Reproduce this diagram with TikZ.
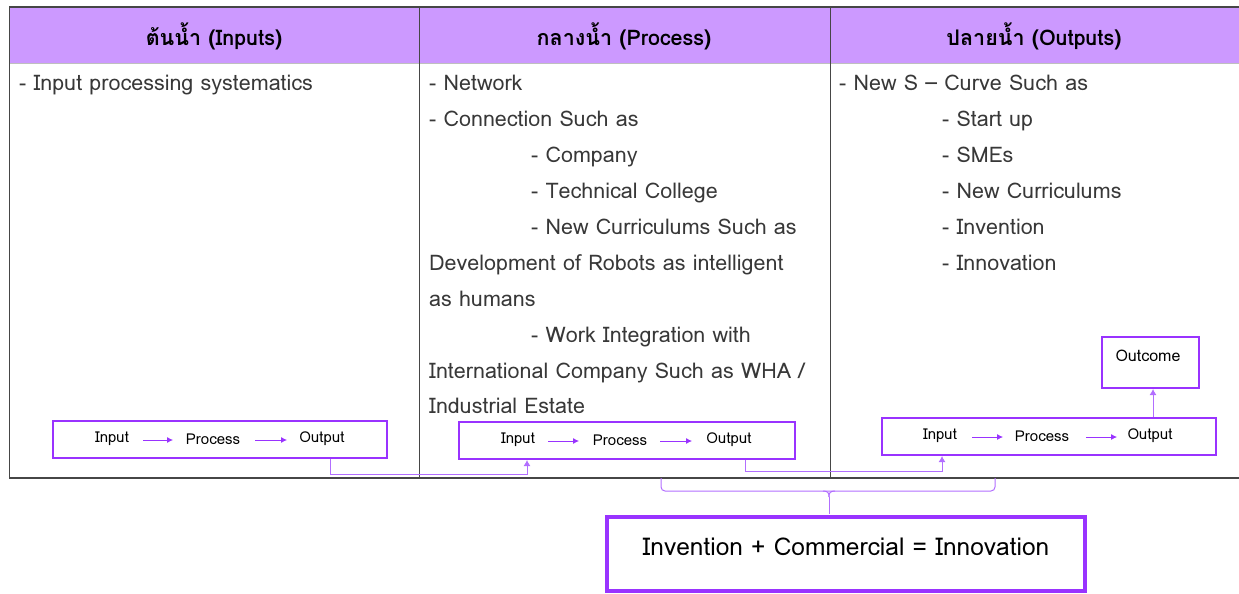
\documentclass[tikz,border=0pt]{standalone}
\usepackage{fontspec}
\setmainfont[Script=Thai]{Loma}
\usetikzlibrary{arrows.meta}
\definecolor{purp}{RGB}{153,51,255}
\definecolor{lpurp}{RGB}{178,110,255}
\definecolor{hdr}{RGB}{204,153,255}
\definecolor{grid}{RGB}{70,70,70}
\tikzset{
  hdrtext/.style={font=\fontsize{21.5}{24}\selectfont\bfseries, text=black},
  body/.style={font=\fontsize{21.5}{24}\selectfont, text=black!78, anchor=base west, inner sep=0pt},
  ipobox/.style={draw=purp, line width=2.2pt, fill=white},
  ipotext/.style={font=\fontsize{15}{17}\selectfont, text=black, inner sep=1pt},
  smallarrow/.style={draw=purp, line width=0.8pt, -{Latex[length=6pt,width=6pt]}},
  link/.style={draw=lpurp, line width=1pt},
  linkarrow/.style={draw=lpurp, line width=1pt, -{Latex[length=6pt,width=7pt]}},
}
\begin{document}
\begin{tikzpicture}[x=1pt,y=-1pt]
\useasboundingbox (0,0) rectangle (1239,594);
% header fill
\fill[hdr] (9,7) rectangle (1239,63);
\draw[black!25, line width=0.8pt] (9,63) -- (1239,63);
% table lines
\draw[grid, line width=1.3pt] (9,7) -- (1239,7);
\draw[grid, line width=1.3pt] (9,478) -- (1239,478);
\draw[grid, line width=1pt] (9,7) -- (9,478);
\draw[grid, line width=1pt] (419,7) -- (419,478);
\draw[grid, line width=1pt] (830,7) -- (830,478);
% headers
\node[hdrtext] (h1) at (214,36) {ต้นน้ำ (Inputs)};
\node[hdrtext] (h2) at (624,36) {กลางน้ำ (Process)};
\node[hdrtext] (h3) at (1034,36) {ปลายน้ำ (Outputs)};
% column 1
\node[body] (c1a) at (19,90) {- Input processing systematics};
% column 2
\node[body] (c2a) at (429,90) {- Network};
\node[body] (c2b) at (429,126) {- Connection Such as};
\node[body] (c2c) at (531,162) {- Company};
\node[body] (c2d) at (531,198) {- Technical College};
\node[body] (c2e) at (531,234) {- New Curriculums Such as};
\node[body] (c2f) at (429,270) {Development of Robots as intelligent};
\node[body] (c2g) at (429,306) {as humans};
\node[body] (c2h) at (531,342) {- Work Integration with};
\node[body] (c2i) at (429,378) {International Company Such as WHA /};
\node[body] (c2j) at (429,413) {Industrial Estate};
% column 3
\node[body] (c3a) at (839,90) {- New S -- Curve Such as};
\node[body] (c3b) at (942,126) {- Start up};
\node[body] (c3c) at (942,162) {- SMEs};
\node[body] (c3d) at (942,198) {- New Curriculums};
\node[body] (c3e) at (942,234) {- Invention};
\node[body] (c3f) at (942,270) {- Innovation};
% IPO box 1
\draw[ipobox] (53,421) rectangle (387,458);
\node[ipotext] (i1) at (112,439) {Input};
\node[ipotext] (p1) at (213,439) {Process};
\node[ipotext] (o1) at (322,439) {Output};
\draw[smallarrow] (143,440) -- (173,440);
\draw[smallarrow] (255,440) -- (287,440);
% IPO box 2
\draw[ipobox] (459,422) rectangle (795,459);
\node[ipotext] (i2) at (518,440) {Input};
\node[ipotext] (p2) at (620,440) {Process};
\node[ipotext] (o2) at (729,440) {Output};
\draw[smallarrow] (548,441) -- (579,441);
\draw[smallarrow] (660,441) -- (692,441);
% IPO box 3
\draw[ipobox] (882,418) rectangle (1216,455);
\node[ipotext] (i3) at (940,436) {Input};
\node[ipotext] (p3) at (1042,436) {Process};
\node[ipotext] (o3) at (1150,436) {Output};
\draw[smallarrow] (972,437) -- (1003,437);
\draw[smallarrow] (1086,437) -- (1117,437);
% Outcome
\draw[draw=purp, line width=2.6pt, fill=white] (1102,337) rectangle (1199,388);
\node[font=\fontsize{16}{18}\selectfont, text=black, inner sep=1pt] (oc) at (1148,356) {Outcome};
\coordinate (b3top) at (1153,417);
\coordinate (octop) at (1153,389);
\draw[linkarrow] (b3top) -- (octop);
% links
\coordinate (l1a) at (330,459);
\coordinate (l1b) at (527,460);
\draw[linkarrow] (l1a) -- (330,474) -- (527,474) -- (l1b);
\coordinate (l2a) at (745,460);
\coordinate (l2b) at (942,456);
\draw[linkarrow] (l2a) -- (745,471) -- (942,471) -- (l2b);
% brace
\draw[link, rounded corners=4pt] (661,478) -- (661,491) -- (995,491) -- (995,478);
\draw[link] (823,491) .. controls (828,491) and (829,493) .. (829,497);
\draw[link] (835,491) .. controls (830,491) and (829,493) .. (829,497);
\draw[link] (829,497) -- (829,514);
% big box
\draw[draw=purp, line width=4.5pt, fill=white] (607,517) rectangle (1085,591);
\node[font=\fontsize{24.5}{28}\selectfont, text=black] (big) at (846,547) {Invention + Commercial = Innovation};
\end{tikzpicture}
\end{document}
